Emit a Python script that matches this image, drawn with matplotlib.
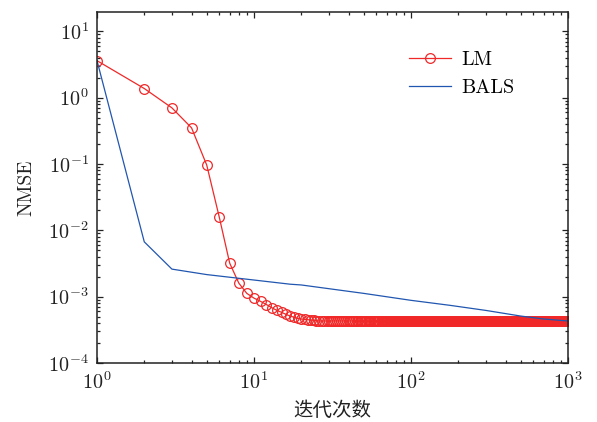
import numpy as np
import matplotlib
matplotlib.use("Agg")
import matplotlib.pyplot as plt
from matplotlib.ticker import LogLocator, NullFormatter

# ---- data ----
lm_head_iter = [1, 2, 3, 4, 5, 6, 7, 8, 9, 10, 11, 12, 13, 14, 15, 16, 17, 18, 19, 20,
                21, 22, 23, 24, 25]
lm_head_vals = [3.6, 1.37, 0.70, 0.35, 0.096, 0.016, 0.0032, 0.0016, 0.00112, 0.00095,
                0.00085, 0.00076, 0.00068, 0.00062, 0.00058, 0.00054, 0.00051, 0.00049,
                0.00047, 0.00046, 0.000455, 0.00045, 0.000445, 0.00044, 0.000435]
lm_tail_value = 0.00043
lm_last_iter = 1000

bals_iter = [1, 2, 3, 5, 10, 17, 20, 50, 100, 177, 300, 500, 700, 1000]
bals_vals = [3.6, 0.0067, 0.0026, 0.00215, 0.00178, 0.00154, 0.00150, 0.00112,
             0.00088, 0.00074, 0.00062, 0.00051, 0.00046, 0.00043]

labels = ["LM", "BALS"]
x_label = "迭代次数"
y_label = "NMSE"

lm_iter = np.arange(1, lm_last_iter + 1)
lm_vals = np.concatenate([lm_head_vals,
                          np.full(lm_last_iter - len(lm_head_vals), lm_tail_value)])

plt.rcParams['mathtext.fontset'] = 'cm'
plt.rcParams['font.family'] = ['cmr10', 'DejaVu Serif']
plt.rcParams['axes.formatter.use_mathtext'] = True

fig = plt.figure(figsize=(5.97, 4.22), dpi=100)
ax = fig.add_axes([0.1625, 0.1398, 0.9514 - 0.1625, 0.9716 - 0.1398])

ax.plot(lm_iter, lm_vals, color='#F02828', lw=0.9, marker='o', ms=7,
        mfc='none', mec='#F02828', mew=0.9, label=labels[0])
ax.plot(bals_iter, bals_vals, color='#2156B0', lw=0.9, label=labels[1])

ax.set_xscale('log')
ax.set_yscale('log')
ax.set_xlim(1, 1000)
ax.set_ylim(1e-4, 19.5)

ax.xaxis.set_major_locator(LogLocator(base=10, numticks=10))
ax.yaxis.set_major_locator(LogLocator(base=10, numticks=10))
ax.xaxis.set_minor_locator(LogLocator(base=10, subs=np.arange(2, 10), numticks=20))
ax.yaxis.set_minor_locator(LogLocator(base=10, subs=np.arange(2, 10), numticks=20))
ax.xaxis.set_minor_formatter(NullFormatter())
ax.yaxis.set_minor_formatter(NullFormatter())

ax.tick_params(which='both', direction='in', top=True, right=True, labelsize=14.5,
               width=0.9, colors='#222222', labelcolor='#222222')
ax.tick_params(which='major', length=4, pad=6)
ax.tick_params(which='minor', length=2.2)
for s in ax.spines.values():
    s.set_linewidth(1.1)
    s.set_color('#222222')

ax.set_ylabel(y_label, fontsize=14, labelpad=9, color='#222222')
ax.set_xlabel(x_label, fontsize=14, family=['Noto Sans CJK SC', 'DejaVu Sans'],
              labelpad=5, color='#222222')

leg = ax.legend(loc='upper right', bbox_to_anchor=(0.925, 0.94), frameon=False,
                fontsize=14.5, handlelength=2.1, labelspacing=0.5, handletextpad=0.5)

fig.savefig('out.png', dpi=100)
